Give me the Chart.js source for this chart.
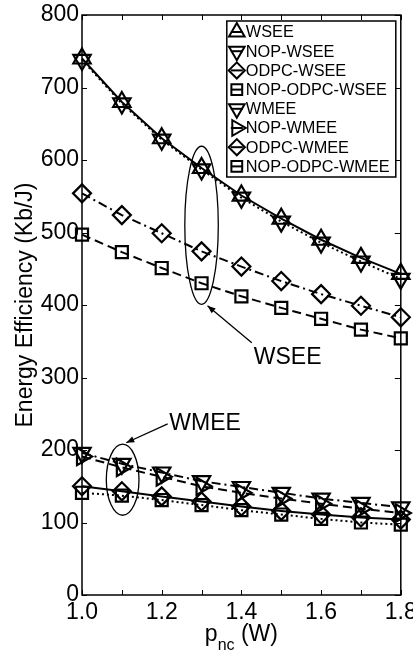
<!DOCTYPE html>
<html><head><meta charset="utf-8">
<script src="https://cdn.jsdelivr.net/npm/chart.js@4/dist/chart.umd.min.js"></script>
<style>html,body{margin:0;padding:0;background:#fff}#wrap{width:413px;height:654px}</style>
</head><body><div id="wrap"><canvas id="c" width="413" height="654"></canvas></div>
<script>
// ---- data ----
const xValues = [1.0, 1.1, 1.2, 1.3, 1.4, 1.5, 1.6, 1.7, 1.8];
const wsee        = [740, 680, 630, 589, 551, 519, 490, 465, 443];
const nopWsee     = [738, 678, 628, 587, 548, 515, 486, 460, 436];
const odpcWsee    = [554, 524, 499, 474, 453, 433, 415, 399, 383];
const nopOdpcWsee = [497, 473, 451, 430, 412, 396, 381, 366, 354];
const wmee        = [196, 181, 169, 157, 149, 141, 133, 127, 121];
const nopWmee     = [191, 176, 163, 150, 141, 133, 126, 119, 113];
const odpcWmee    = [150, 143, 136, 129, 122, 116, 111, 107, 104];
const nopOdpcWmee = [141, 137, 131, 124, 117, 111, 105, 100, 97];
const seriesNames = ['WSEE','NOP-WSEE','ODPC-WSEE','NOP-ODPC-WSEE','WMEE','NOP-WMEE','ODPC-WMEE','NOP-ODPC-WMEE'];
const xTickLabels = ['1.0','1.2','1.4','1.6','1.8'];
const yMin = 0, yMax = 800, yStep = 100;
const xMin = 1.0, xMax = 1.8, xStep = 0.1;

// ---- styles ----
const FONT = '"Liberation Sans", Arial, Helvetica, sans-serif';
const SOLID = [], DOT = [2, 3], DASH = [9, 5], DASHDOT = [9, 4, 2, 4];
const styles = [
  {pt:'triangle', rot:0,   r:10, dash:SOLID},
  {pt:'triangle', rot:180, r:10, dash:DOT},
  {pt:'rectRot',  rot:0,   r:9,  dash:DASHDOT},
  {pt:'rect',     rot:0,   r:8.5,dash:DASH},
  {pt:'triangle', rot:180, r:10, dash:DASHDOT},
  {pt:'triangle', rot:90,  r:10, dash:DASH},
  {pt:'rectRot',  rot:0,   r:9,  dash:SOLID},
  {pt:'rect',     rot:0,   r:8.5,dash:DOT}
];
const seriesData = [wsee, nopWsee, odpcWsee, nopOdpcWsee, wmee, nopWmee, odpcWmee, nopOdpcWmee];

const datasets = seriesData.map((vals, i) => ({
  label: seriesNames[i],
  data: vals.map((v, j) => ({x: xValues[j], y: v})),
  borderColor: '#000',
  borderWidth: 2,
  borderDash: styles[i].dash,
  pointStyle: styles[i].pt,
  pointRotation: styles[i].rot,
  pointRadius: styles[i].r,
  pointBorderWidth: 2.2,
  pointBorderColor: '#000',
  pointBackgroundColor: 'rgba(0,0,0,0)',
  fill: false,
  tension: 0,
  clip: false
}));

// annotations (data coordinates)
const ellipses = [
  {x: 1.30, y: 510, rx: 0.042, ry: 109},
  {x: 1.102, y: 159, rx: 0.041, ry: 49}
];
const arrows = [
  {x1: 1.426, y1: 348, x2: 1.315, y2: 399},
  {x1: 1.215, y1: 236, x2: 1.111, y2: 210}
];
const notes = [
  {text: 'WSEE', x: 1.431, y: 327},
  {text: 'WMEE', x: 1.219, y: 237}
];

const framePlugin = {
  id: 'frame',
  beforeDatasetsDraw(chart) {
    const {ctx, chartArea: a, scales: {x, y}} = chart;
    ctx.save();
    ctx.strokeStyle = '#000';
    ctx.lineWidth = 1.5;
    ctx.setLineDash([]);
    ctx.strokeRect(a.left, a.top, a.right - a.left, a.bottom - a.top);
    ctx.lineWidth = 1;
    ctx.beginPath();
    x.ticks.forEach(t => {
      const px = Math.round(x.getPixelForValue(t.value)) + 0.5;
      ctx.moveTo(px, a.bottom); ctx.lineTo(px, a.bottom - 5);
      ctx.moveTo(px, a.top); ctx.lineTo(px, a.top + 5);
    });
    y.ticks.forEach(t => {
      const py = Math.round(y.getPixelForValue(t.value)) + 0.5;
      ctx.moveTo(a.left, py); ctx.lineTo(a.left + 5, py);
      ctx.moveTo(a.right, py); ctx.lineTo(a.right - 6, py);
    });
    ctx.stroke();
    ctx.restore();
  },
  afterDatasetsDraw(chart) {
    const {ctx, scales: {x, y}} = chart;
    ctx.save();
    ctx.strokeStyle = '#000';
    ctx.fillStyle = '#000';
    ctx.lineWidth = 1.3;
    ctx.setLineDash([]);
    ellipses.forEach(e => {
      const cx = x.getPixelForValue(e.x), cy = y.getPixelForValue(e.y);
      const rx = Math.abs(x.getPixelForValue(e.x + e.rx) - cx);
      const ry = Math.abs(y.getPixelForValue(e.y + e.ry) - cy);
      ctx.beginPath(); ctx.ellipse(cx, cy, rx, ry, 0, 0, Math.PI * 2); ctx.stroke();
    });
    arrows.forEach(ar => {
      const x1 = x.getPixelForValue(ar.x1), y1 = y.getPixelForValue(ar.y1);
      const x2 = x.getPixelForValue(ar.x2), y2 = y.getPixelForValue(ar.y2);
      ctx.beginPath(); ctx.moveTo(x1, y1); ctx.lineTo(x2, y2); ctx.stroke();
      const ang = Math.atan2(y2 - y1, x2 - x1), L = 8, W = 3.2;
      ctx.beginPath();
      ctx.moveTo(x2, y2);
      ctx.lineTo(x2 - L * Math.cos(ang) + W * Math.sin(ang), y2 - L * Math.sin(ang) - W * Math.cos(ang));
      ctx.lineTo(x2 - L * Math.cos(ang) - W * Math.sin(ang), y2 - L * Math.sin(ang) + W * Math.cos(ang));
      ctx.closePath(); ctx.fill();
    });
    ctx.font = '23px ' + FONT;
    ctx.textBaseline = 'middle';
    ctx.textAlign = 'left';
    notes.forEach(n => ctx.fillText(n.text, x.getPixelForValue(n.x), y.getPixelForValue(n.y)));
    ctx.restore();
  },
  afterDraw(chart) {
    const {ctx, chartArea: a} = chart;
    ctx.save();
    ctx.fillStyle = '#000';
    // x axis title with subscript
    const cx = (a.left + a.right) / 2;
    ctx.textBaseline = 'alphabetic';
    ctx.font = '23px ' + FONT;
    const wP = ctx.measureText('p').width;
    const wW = ctx.measureText(' (W)').width;
    ctx.font = '16px ' + FONT;
    const wS = ctx.measureText('nc').width;
    let sx = cx - (wP + wS + wW) / 2;
    ctx.font = '23px ' + FONT;
    ctx.fillText('p', sx, 641);
    ctx.font = '16px ' + FONT;
    ctx.fillText('nc', sx + wP, 650);
    ctx.font = '23px ' + FONT;
    ctx.fillText(' (W)', sx + wP + wS, 641);
    // y axis title
    ctx.translate(32, (a.top + a.bottom) / 2);
    ctx.rotate(-Math.PI / 2);
    ctx.textAlign = 'center';
    ctx.fillText('Energy Efficiency (Kb/J)', 0, 0);
    ctx.restore();

    // legend
    ctx.save();
    const lw = 169, lh = 156;
    const lx = a.right - 5 - lw, ly = a.top + 6;
    ctx.fillStyle = '#fff';
    ctx.fillRect(lx, ly, lw, lh);
    ctx.strokeStyle = '#000';
    ctx.lineWidth = 1.5;
    ctx.setLineDash([]);
    ctx.strokeRect(lx, ly, lw, lh);
    ctx.font = '16.3px ' + FONT;
    ctx.textBaseline = 'middle';
    ctx.textAlign = 'left';
    seriesNames.forEach((name, i) => {
      const ry = ly + 11 + i * 19.2;
      const mx = lx + 10;
      ctx.lineWidth = 2;
      ctx.strokeStyle = '#000';
      ctx.beginPath(); ctx.moveTo(mx - 6, ry); ctx.lineTo(mx + 6, ry); ctx.stroke();
      ctx.fillStyle = 'rgba(0,0,0,0)';
      Chart.helpers.drawPoint(ctx, {pointStyle: styles[i].pt, rotation: styles[i].rot, radius: styles[i].r * 0.9, borderWidth: 2.2}, mx, ry);
      ctx.fillStyle = '#000';
      ctx.fillText(name, lx + 19, ry + 1);
    });
    ctx.restore();
  }
};

new Chart(document.getElementById('c'), {
  type: 'line',
  data: {datasets},
  options: {
    responsive: false,
    animation: false,
    devicePixelRatio: 1,
    layout: {padding: {left: 0, top: 15, right: 6, bottom: 0}},
    plugins: {legend: {display: false}, tooltip: {enabled: false}},
    scales: {
      x: {
        type: 'linear', min: xMin, max: xMax,
        grid: {display: false, drawTicks: false},
        border: {display: false},
        ticks: {
          stepSize: xStep, autoSkip: false, maxRotation: 0, padding: 4,
          color: '#000', font: {family: FONT, size: 23},
          callback: (v, i) => (i % 2 === 0 ? xTickLabels[i / 2] : '')
        },
        afterFit: s => { s.height = 59; s.paddingLeft = 0; s.paddingRight = 0; }
      },
      y: {
        type: 'linear', min: yMin, max: yMax,
        grid: {display: false, drawTicks: false},
        border: {display: false},
        ticks: {stepSize: yStep, padding: 3, color: '#000', font: {family: FONT, size: 23}},
        afterFit: s => { s.width = 82; s.paddingTop = 0; s.paddingBottom = 0; }
      }
    }
  },
  plugins: [framePlugin]
});
</script>
</body></html>
